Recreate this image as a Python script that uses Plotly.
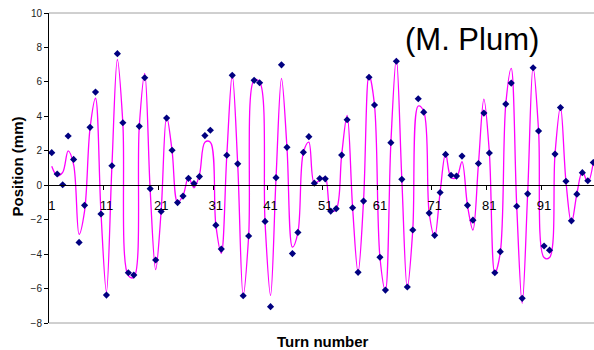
import plotly.graph_objects as go

turns = list(range(1, 101))

# measured beam position (dots)
position_mm = [
    1.89, 0.65, 0.03, 2.86, 1.50, -3.32, -1.17, 3.36, 5.41, -1.67,
    -6.38, 1.13, 7.64, 3.63, -5.08, -5.22, 3.42, 6.24, -0.2, -4.34,
    -1.52, 3.90, 2.03, -1.01, -0.63, 0.4, 0.1, 0.5, 2.88, 3.19,
    -2.32, -3.71, 1.74, 6.38, 1.24, -6.42, -2.95, 6.09, 5.95, -2.1,
    -7.05, 0.44, 6.99, 2.2, -3.97, -2.74, 1.91, 2.82, 0.12, 0.39,
    0.37, -1.5, -1.36, 1.75, 3.8, -1.31, -5.06, -0.92, 6.27, 4.66,
    -4.18, -6.09, 2.47, 7.2, 0.34, -5.91, -2.6, 5.02, 4.24, -1.62,
    -2.91, -0.42, 1.79, 0.58, 0.53, 1.69, -1.17, -2.03, 1.26, 4.19,
    1.87, -5.08, -3.86, 4.71, 5.93, -1.22, -6.57, -0.5, 6.82, 3.15,
    -3.53, -3.77, 1.81, 4.51, 0.23, -2.07, -0.52, 0.73, 0.26, 1.32,
]

# fitted curve (magenta), read at each turn
fit_mm = [
    1.1, 0.55, 0.75, 2.0, 1.2, -2.85, -1.5, 3.3, 5.05, -1.6,
    -6.2, 1.1, 7.3, 3.6, -5.25, -5.35, 3.4, 6.5, -0.3, -4.9,
    -1.5, 4.0, 2.0, -1.0, -0.6, 0.45, -0.15, 0.6, 2.5, 2.5,
    -2.3, -3.95, 1.7, 6.4, 1.2, -6.4, -2.95, 6.1, 6.0, -2.2,
    -6.4, 0.4, 6.2, 2.2, -3.6, -2.75, 1.9, 2.5, 0.1, 0.3,
    0.45, -1.5, -1.4, 1.75, 4.05, -1.3, -5.06, -0.9, 6.4, 4.66,
    -4.18, -6.12, 2.47, 7.37, 0.34, -5.98, -2.6, 4.6, 4.3, -1.6,
    -3.0, -0.4, 1.83, 0.45, 0.45, 1.37, -1.17, -2.6, 1.2, 5.0,
    1.9, -5.1, -3.9, 4.7, 6.78, -1.2, -6.86, -0.5, 6.88, 3.15,
    -4.2, -4.2, 1.8, 4.56, 0.23, -2.2, -0.5, 0.82, 0.15, 1.32,
]

x_tick_vals = [1, 11, 21, 31, 41, 51, 61, 71, 81, 91]
x_tick_text = [str(v) for v in x_tick_vals]
x_boundary_ticks = [10.5, 20.5, 30.5, 40.5, 50.5, 60.5, 70.5, 80.5, 90.5]
y_tick_vals = [-8, -6, -4, -2, 0, 2, 4, 6, 8, 10]

FONT = "Liberation Sans, Arial, sans-serif"

fig = go.Figure()
fig.add_trace(go.Scatter(
    x=turns, y=fit_mm, mode="lines",
    line=dict(color="#FF00FF", width=1.3, shape="spline", smoothing=1.0),
    hoverinfo="skip", showlegend=False,
))
fig.add_trace(go.Scatter(
    x=turns, y=position_mm, mode="markers",
    marker=dict(symbol="diamond", size=5.5, color="#000080",
                line=dict(width=0)),
    showlegend=False,
))

fig.update_layout(
    width=594, height=350,
    margin=dict(l=49, r=0, t=13, b=27),
    paper_bgcolor="white", plot_bgcolor="white",
    font=dict(family=FONT, color="black"),
    xaxis=dict(
        range=[0.5, 100.13],
        anchor="free", position=8 / 18,
        showline=True, linecolor="black", linewidth=1,
        showgrid=False, zeroline=False,
        tickmode="array", tickvals=x_tick_vals, ticktext=x_tick_text,
        ticks="", ticklabelstandoff=8,
        tickfont=dict(size=13, color="black", family=FONT),
        minor=dict(tickmode="array", tickvals=x_boundary_ticks,
                   ticks="outside", ticklen=4, tickcolor="black", showgrid=False),
    ),
    yaxis=dict(
        range=[-8, 10], domain=[0, 1],
        showline=True, linecolor="black", linewidth=1,
        showgrid=False, zeroline=False,
        tickmode="array", tickvals=y_tick_vals,
        ticks="outside", ticklen=4, tickcolor="black",
        tickfont=dict(size=10, color="#222222", family=FONT),
    ),
    shapes=[
        dict(type="line", xref="paper", yref="paper", x0=0, x1=1, y0=1, y1=1,
             line=dict(color="#A0A0A0", width=1)),
        dict(type="line", xref="paper", yref="paper", x0=0, x1=1, y0=0, y1=0,
             line=dict(color="#A0A0A0", width=1)),
    ],
    annotations=[
        dict(text="(M. Plum)", xref="paper", yref="paper",
             x=(472 - 49) / 545, y=(323 - 40) / 310,
             xanchor="center", yanchor="middle", showarrow=False,
             font=dict(size=31, color="black", family=FONT)),
        dict(text="<b>Turn number</b>", xref="paper", yref="paper",
             x=(323 - 49) / 545, y=-(341.5 - 323) / 310,
             xanchor="center", yanchor="middle", showarrow=False,
             font=dict(size=15, color="black", family=FONT)),
        dict(text="<b>Position (mm)</b>", xref="paper", yref="paper",
             x=(17 - 49) / 545, y=(323 - 166.5) / 310,
             xanchor="center", yanchor="middle", showarrow=False, textangle=-90,
             font=dict(size=15, color="black", family=FONT)),
    ],
)

fig.write_html("out.html")
